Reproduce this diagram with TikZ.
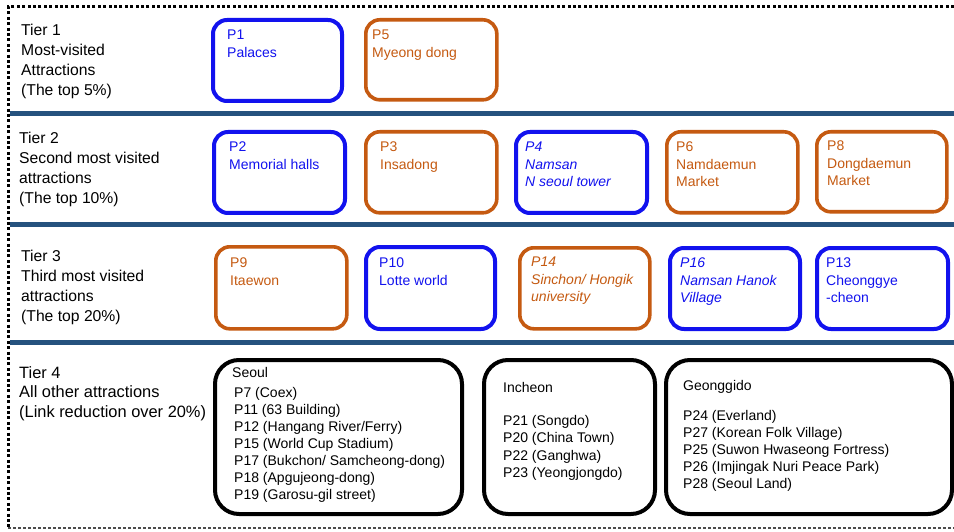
\documentclass[tikz,border=0pt]{standalone}
\usepackage{fontspec}
\setmainfont{Liberation Sans}
\definecolor{myblue}{RGB}{18,18,238}
\definecolor{myorange}{RGB}{197,90,17}
\definecolor{sepblue}{RGB}{37,82,126}
\newcommand\pbx[6]{\node[#2, anchor=north west, inner sep=0pt, minimum width=#5pt, minimum height=#6pt] (#1) at (#3,#4) {};}
\tikzset{
  pbox/.style={draw, rounded corners=14pt, line width=4pt},
  bluebox/.style={pbox, draw=myblue},
  orbox/.style={pbox, draw=myorange, line width=3.6pt},
  blkbox/.style={draw=black, rounded corners=24pt, line width=4pt},
  btext/.style={anchor=north west, inner sep=0pt, align=left, font=\fontsize{14}{17.5}\selectfont},
  tiertext/.style={anchor=north west, inner sep=0pt, align=left, font=\fontsize{15.7}{20}\selectfont},
  listtext/.style={anchor=north west, inner sep=0pt, align=left, font=\fontsize{14}{17}\selectfont},
  sepline/.style={draw=sepblue, line width=5pt},
  dotborder/.style={draw=black, line width=3pt, dash pattern=on 3pt off 2.4pt},
}
\begin{document}
\begin{tikzpicture}[x=1pt,y=-1pt]
\useasboundingbox (0,0) rectangle (954,532);
\fill[white] (0,0) rectangle (954,532);
% border
\coordinate (tl) at (8,7);
\coordinate (tr) at (954,7);
\coordinate (bl) at (8,528);
\coordinate (br) at (954,528);
\draw[dotborder] (tr) -- (tl) -- (bl);
\draw[draw=black!70, line width=1.2pt, dash pattern=on 3pt off 2pt] (bl) -- (br);
% separators
\coordinate (s1a) at (10,114); \coordinate (s1b) at (954,114);
\coordinate (s2a) at (10,225); \coordinate (s2b) at (954,225);
\coordinate (s3a) at (10,342); \coordinate (s3b) at (954,342);
\draw[sepline] (s1a) -- (s1b);
\draw[sepline] (s2a) -- (s2b);
\draw[sepline] (s3a) -- (s3b);
% tier labels
\node[tiertext] (tier1) at (21,23.5) {Tier 1\\Most-visited\\Attractions\\(The top 5\%)};
\node[tiertext] (tier2) at (19,131.5) {Tier 2\\Second most visited\\attractions\\(The top 10\%)};
\node[tiertext] (tier3) at (21,249.5) {Tier 3\\Third most visited\\attractions\\(The top 20\%)};
\node[tiertext, font=\fontsize{16.4}{19.6}\selectfont] (tier4) at (19,366) {Tier 4\\All other attractions\\(Link reduction over 20\%)};
% tier 1 boxes
\pbx{p1}{bluebox}{211}{18}{129}{81}
\pbx{p5}{orbox}{364}{18}{131}{80}
\node[btext, text=myblue] (p1t) at (227,30) {P1\\Palaces};
\node[btext, text=myorange] (p5t) at (372,30) {P5\\Myeong dong};
% tier 2 boxes
\pbx{p2}{bluebox}{212}{130}{131}{81}
\pbx{p3}{orbox}{364}{130}{131}{81}
\pbx{p4}{bluebox}{514}{130}{131}{81}
\pbx{p6}{orbox}{665}{130}{131}{81}
\pbx{p8}{orbox}{815}{130}{130}{80}
\node[btext, text=myblue] (p2t) at (229,142) {P2\\Memorial halls};
\node[btext, text=myorange] (p3t) at (380,142) {P3\\Insadong};
\node[btext, text=myblue, font=\fontsize{14}{17.5}\selectfont\itshape] (p4t) at (525,142) {P4\\Namsan\\N seoul tower};
\node[btext, text=myorange] (p6t) at (676,142) {P6\\Namdaemun\\Market};
\node[btext, text=myorange] (p8t) at (827,141) {P8\\Dongdaemun\\Market};
% tier 3 boxes
\pbx{p9}{orbox}{214}{245}{131}{82}
\pbx{p10}{bluebox}{364}{245}{129}{82}
\pbx{p14}{orbox}{518}{246}{130}{81}
\pbx{p16}{bluebox}{668}{246}{130}{81}
\pbx{p13}{bluebox}{815}{246}{131}{81}
\node[btext, text=myorange] (p9t) at (230,258) {P9\\Itaewon};
\node[btext, text=myblue] (p10t) at (379,258) {P10\\Lotte world};
\node[btext, text=myorange, font=\fontsize{14}{17.5}\selectfont\itshape] (p14t) at (531,257) {P14\\Sinchon/ Hongik\\university};
\node[btext, text=myblue, font=\fontsize{14}{17.5}\selectfont\itshape] (p16t) at (680,258) {P16\\Namsan Hanok\\Village};
\node[btext, text=myblue] (p13t) at (826,258) {P13\\Cheonggye\\-cheon};
% tier 4 boxes
\pbx{seoul}{blkbox}{213}{358}{247}{154}
\pbx{incheon}{blkbox}{482}{358}{171}{154}
\pbx{gyeonggi}{blkbox}{664}{358}{286}{154}
\node[listtext] (seoult) at (232,367) {Seoul};
\node[listtext] (seoull) at (234,387) {P7 (Coex)\\P11 (63 Building)\\P12 (Hangang River/Ferry)\\P15 (World Cup Stadium)\\P17 (Bukchon/ Samcheong-dong)\\P18 (Apgujeong-dong)\\P19 (Garosu-gil street)};
\node[listtext] (incheont) at (503,382) {Incheon};
\node[listtext, font=\fontsize{14}{17.5}\selectfont] (incheonl) at (503,415) {P21 (Songdo)\\P20 (China Town)\\P22 (Ganghwa)\\P23 (Yeongjongdo)};
\node[listtext] (gyeonggit) at (683,380) {Geonggido};
\node[listtext] (gyeonggil) at (683,410) {P24 (Everland)\\P27 (Korean Folk Village)\\P25 (Suwon Hwaseong Fortress)\\P26 (Imjingak Nuri Peace Park)\\P28 (Seoul Land)};
\end{tikzpicture}
\end{document}
